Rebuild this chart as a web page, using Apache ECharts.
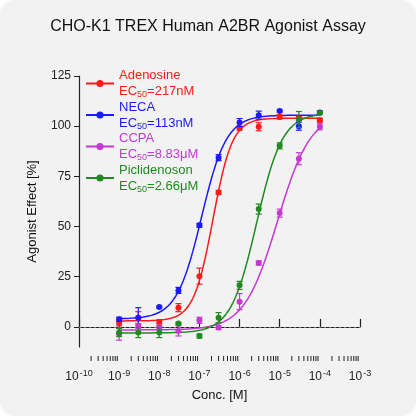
<!DOCTYPE html>
<html><head><meta charset="utf-8">
<script src="https://cdn.jsdelivr.net/npm/echarts@6/dist/echarts.min.js"></script>
<style>
html,body{margin:0;padding:0;background:#fff;}
#c{width:416px;height:416px;background:#f2f2f2;border-radius:14px;overflow:hidden;}
</style></head><body>
<div id="c"></div>
<script>
const conc = [1e-9, 3e-9, 1e-8, 3e-8, 1e-7, 3e-7, 1e-6, 3e-6, 1e-5, 3e-5, 1e-4];
const names = ["Adenosine", "NECA", "CCPA", "Piclidenoson"];
const ec50Labels = ["=217nM", "=113nM", "=8.83μM", "=2.66μM"];
const colors = ["#ff1a1a", "#1a1aff", "#c23ad0", "#1f8a1f"];
const means = [
  [2, 4.6, 2.5, 9.6, 25.3, 67, 99, 99.7, 104.6, 103.8, 103],
  [3.8, 4.6, 9.9, 18.2, 50.6, 84.3, 101.8, 105.5, 107.6, 100, 106.8],
  [-3.6, 0.5, -0.3, -2, 3.3, -0.3, 12.6, 31.9, 56.7, 83.8, 99.7],
  [-2.8, -2.8, -2.8, 1.7, -4.5, 4.6, 20.7, 58.7, 90.2, 103.3, 106.6]
];
const errs = [
  [1.5, 3, 1, 2, 4, 1, 1, 2, 1, 1, 1],
  [1, 5, 0.5, 1.5, 1, 1.5, 2, 2, 0.5, 2, 0.8],
  [3, 1, 1, 2.5, 1.5, 1, 4, 1, 2, 3, 1.5],
  [2, 2.5, 2.5, 0.5, 1, 2.5, 2, 2.5, 1.5, 4, 0.5]
];
// fitted 4-parameter logistic: bottom, top, EC50, hill slope
const fitBottom = [3, 4, -1.5, -3];
const fitTop = [104, 105.5, 107, 106.5];
const fitEC50 = [2.17e-7, 1.13e-7, 8.83e-6, 2.66e-6];
const fitHill = [1.8, 1.4, 1.05, 1.35];
const yTicks = [0, 25, 50, 75, 100, 125];

function curve(i) {
  const pts = [];
  for (let k = 0; k <= 150; k++) {
    const lx = -9 + k * 5 / 150;
    const v = fitBottom[i] + (fitTop[i] - fitBottom[i]) /
      (1 + Math.pow(10, (Math.log10(fitEC50[i]) - lx) * fitHill[i]));
    pts.push([lx, v]);
  }
  return pts;
}

const minorTicks = [];
for (let d = -10; d < -3; d++) for (let m = 2; m <= 9; m++) minorTicks.push(d + Math.log10(m));

const series = [];
names.forEach((n, i) => {
  series.push({
    name: n, type: "line", data: curve(i), symbol: "circle", symbolSize: 6,
    showSymbol: false, color: colors[i],
    lineStyle: { width: 1.5 }, z: 3, silent: true,
    markLine: i === 0 ? {
      silent: true, symbol: "none", label: { show: false },
      lineStyle: { color: "#777", type: [2, 3], width: 1 },
      data: [[{ coord: [-10, 0] }, { coord: [-3, 0] }]]
    } : undefined
  });
  series.push({
    type: "custom", z: 4, silent: true,
    data: conc.map((c, j) => [Math.log10(c), means[i][j], errs[i][j]]),
    renderItem: (p, api) => {
      const x = api.value(0), y = api.value(1), e = api.value(2);
      const top = api.coord([x, y + e]), bot = api.coord([x, y - e]), c = api.coord([x, y]);
      const st = { stroke: colors[i], lineWidth: 1.2 };
      return { type: "group", children: [
        { type: "line", shape: { x1: c[0], y1: top[1], x2: c[0], y2: bot[1] }, style: st },
        { type: "line", shape: { x1: c[0] - 3, y1: top[1], x2: c[0] + 3, y2: top[1] }, style: st },
        { type: "line", shape: { x1: c[0] - 3, y1: bot[1], x2: c[0] + 3, y2: bot[1] }, style: st },
        { type: "circle", shape: { cx: c[0], cy: c[1], r: 3 }, style: { fill: colors[i] } }
      ]};
    }
  });
});
// minor ticks of the log axis (axis is offset 14px below the grid)
series.push({
  type: "custom", silent: true, clip: false,
  data: minorTicks.map(t => [t]),
  renderItem: (p, api) => {
    const pt = api.coord([api.value(0), -10]);
    const y0 = pt[1] + 14;
    return { type: "line", shape: { x1: pt[0], y1: y0, x2: pt[0], y2: y0 - 5 }, style: { stroke: "#222", lineWidth: 1 } };
  }
});

const rich = {};
colors.forEach((c, i) => {
  rich["n" + i] = { color: c, fontSize: 13, lineHeight: 16, fontFamily: "Liberation Sans" };
  rich["s" + i] = { color: c, fontSize: 9, lineHeight: 16, verticalAlign: "bottom", padding: [6, 0, 0, 0], fontFamily: "Liberation Sans" };
});

const chart = echarts.init(document.getElementById("c"));
chart.setOption({
  animation: false,
  textStyle: { fontFamily: "Liberation Sans" },
  title: { text: "CHO-K1 TREX Human A2BR Agonist Assay", left: "center", top: 14,
    textStyle: { fontSize: 16, fontWeight: "normal", color: "#111" } },
  grid: { left: 79, right: 56, top: 76, bottom: 69 },
  legend: {
    orient: "vertical", left: 80, top: 64, itemWidth: 28, itemHeight: 9, itemGap: 1,
    data: names,
    formatter: n => {
      const i = names.indexOf(n);
      return "{n" + i + "|" + n + "}\n{n" + i + "|EC}{s" + i + "|50}{n" + i + "|" + ec50Labels[i] + "}";
    },
    textStyle: { rich: rich }
  },
  xAxis: {
    type: "value", min: -10, max: -3, interval: 1, offset: 14,
    name: "Conc. [M]", nameLocation: "middle", nameGap: 28,
    nameTextStyle: { fontSize: 13, color: "#111" },
    splitLine: { show: false },
    axisLine: { lineStyle: { color: "#222", width: 1.2 } },
    axisTick: { length: 8, inside: true, lineStyle: { color: "#222", width: 1.2 } },
    axisLabel: { color: "#222", margin: 8,
      formatter: v => "{b|10}{s|" + v + "}",
      rich: {
        b: { fontSize: 12, color: "#222", lineHeight: 16, fontFamily: "Liberation Sans" },
        s: { fontSize: 9, color: "#222", lineHeight: 16, verticalAlign: "top", padding: [0, 0, 5, 1], fontFamily: "Liberation Sans" }
      }
    }
  },
  yAxis: {
    type: "value", min: -10, max: 125,
    name: "Agonist Effect [%]", nameLocation: "middle", nameGap: 40,
    nameTextStyle: { fontSize: 13, color: "#111" },
    splitLine: { show: false },
    axisLine: { show: true, lineStyle: { color: "#222", width: 1.2 } },
    axisTick: { show: true, length: 5, customValues: yTicks, lineStyle: { color: "#222" } },
    axisLabel: { color: "#222", fontSize: 12, customValues: yTicks }
  },
  series: series
});
</script>
</body></html>
